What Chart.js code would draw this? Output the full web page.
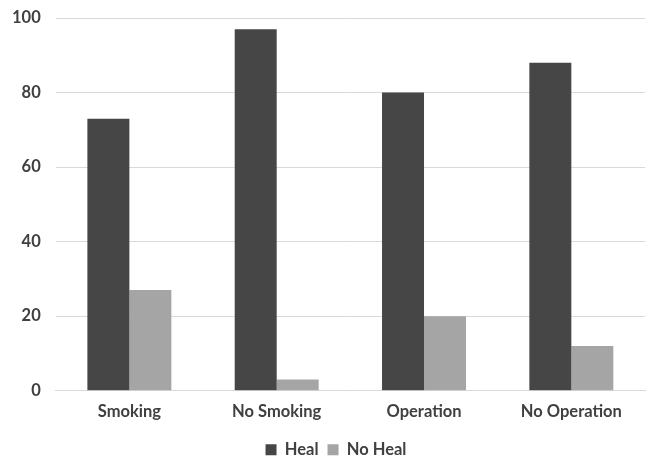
<!DOCTYPE html>
<html>
<head>
<meta charset="utf-8">
<script src="https://cdn.jsdelivr.net/npm/chart.js@4/dist/chart.umd.min.js"></script>
<style>
  html, body { margin: 0; padding: 0; background: #fff; }
  #wrap { width: 652px; height: 459px; }
</style>
</head>
<body>
<div id="wrap"><canvas id="c" width="652" height="459"></canvas></div>
<script>
const categories = ["Smoking", "No Smoking", "Operation", "No Operation"];
const healValues = [73, 97, 80, 88];
const noHealValues = [27, 3, 20, 12];
const yTicks = [0, 20, 40, 60, 80, 100];

const textColor = "#404040";
const fontFamily = "Lato, 'Open Sans', sans-serif";
const labelFont = { family: fontFamily, size: 16.5, weight: "bold" };

// nudges the bottom legend a little to the right of the canvas centre
const legendShift = {
  id: "legendShift",
  afterLayout(chart) {
    const lg = chart.legend;
    if (lg) { lg.left += 15; lg.right += 15; }
  }
};

new Chart(document.getElementById("c"), {
  type: "bar",
  data: {
    labels: categories,
    datasets: [
      { label: "Heal", data: healValues, backgroundColor: "#464646" },
      { label: "No Heal", data: noHealValues, backgroundColor: "#a5a5a5" }
    ]
  },
  plugins: [legendShift],
  options: {
    responsive: false,
    animation: false,
    layout: { padding: { top: 0, right: 7, left: -3, bottom: -9 } },
    datasets: { bar: { barPercentage: 1, categoryPercentage: 0.57 } },
    plugins: {
      legend: {
        position: "bottom",
        labels: {
          boxWidth: 11, boxHeight: 11, padding: 9,
          color: textColor,
          font: labelFont
        }
      },
      tooltip: { enabled: false }
    },
    scales: {
      x: {
        grid: { display: false, drawTicks: false },
        border: { display: true, color: "#d9d9d9", width: 1 },
        ticks: { padding: 11, color: textColor, font: labelFont }
      },
      y: {
        min: 0, max: 100,
        afterBuildTicks: (axis) => { axis.ticks = yTicks.map(v => ({ value: v })); },
        // keep the top label from pushing the plot down by the tick padding
        afterFit: (axis) => { axis.paddingTop = 18; },
        grid: { color: "#d9d9d9", drawTicks: false },
        border: { display: false },
        ticks: { padding: 15, color: textColor, font: labelFont }
      }
    }
  }
});
</script>
</body>
</html>
